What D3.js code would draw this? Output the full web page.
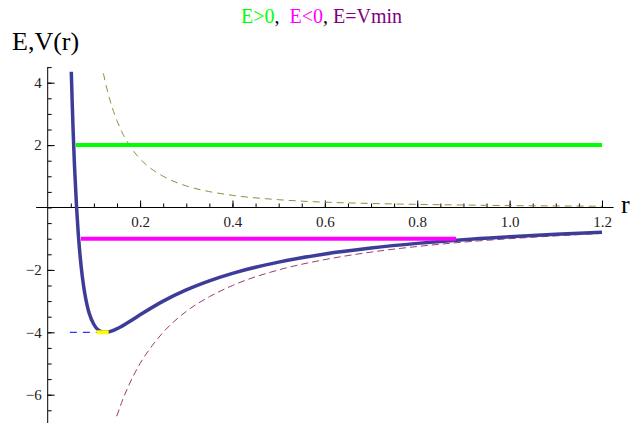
<!DOCTYPE html>
<html>
<head>
<meta charset="utf-8">
<script src="https://cdn.jsdelivr.net/npm/d3@7"></script>
<style>
  html, body { margin: 0; padding: 0; background: #fff; }
  svg { display: block; font-family: "Liberation Serif", "Times New Roman", serif; }
  .tick text { font-size: 15px; fill: #222; font-family: "Liberation Serif", "Times New Roman", serif; }
</style>
</head>
<body>
<svg id="chart" width="638" height="423"></svg>
<script>
// effective potential V(r)
const potential = [
  [0.0511, 4.35], [0.053, 3.38], [0.055, 2.48], [0.058, 1.34], [0.0625, 0],
  [0.066, -0.80], [0.07, -1.53], [0.075, -2.22], [0.08, -2.73], [0.085, -3.11],
  [0.09, -3.40], [0.1, -3.75], [0.11, -3.93], [0.125, -4.00], [0.14, -3.95],
  [0.16, -3.81], [0.18, -3.63], [0.2, -3.44], [0.25, -3.00], [0.3, -2.64],
  [0.35, -2.35], [0.4, -2.11], [0.5, -1.75], [0.6, -1.49], [0.7, -1.30],
  [0.8, -1.15], [0.9, -1.03], [1.0, -0.94], [1.1, -0.86], [1.2, -0.79]
];
// centrifugal term (olive dashed)
const centrifugal = [
  [0.1205, 4.30], [0.13, 3.70], [0.14, 3.19], [0.15, 2.78], [0.16, 2.44],
  [0.18, 1.93], [0.2, 1.56], [0.22, 1.29], [0.25, 1.00], [0.3, 0.69],
  [0.35, 0.51], [0.4, 0.39], [0.5, 0.25], [0.6, 0.17], [0.7, 0.13],
  [0.8, 0.10], [0.9, 0.08], [1.0, 0.06], [1.1, 0.05], [1.2, 0.04]
];
// attractive term (maroon dashed)
const attractive = [
  [0.1495, -6.69], [0.16, -6.25], [0.18, -5.56], [0.2, -5.00], [0.22, -4.55],
  [0.25, -4.00], [0.3, -3.33], [0.35, -2.86], [0.4, -2.50], [0.5, -2.00],
  [0.6, -1.67], [0.7, -1.43], [0.8, -1.25], [0.9, -1.11], [1.0, -1.00],
  [1.1, -0.91], [1.2, -0.83]
];
// energy levels: [E, rStart, rEnd]
const levelPos = [2, 0.061, 1.2];
const levelNeg = [-1, 0.072, 0.884];
const levelMin = [-4, 0.106, 0.132];
const minGuide = [-4, 0.048, 0.106];

const xTicks = [0.2, 0.4, 0.6, 0.8, 1.0, 1.2];
const yTicks = [-6, -4, -2, 2, 4];

const svg = d3.select("#chart");
const x = d3.scaleLinear().domain([0, 1.2]).range([47.7, 602]);
const y = d3.scaleLinear().domain([-6, 4]).range([394.7, 82.7]);

// minor ticks
svg.append("g")
  .attr("transform", `translate(0,${y(0)})`)
  .call(d3.axisBottom(x).tickValues(d3.range(1, 25).map(i => i * 0.05)).tickSize(-4).tickFormat(""))
  .call(g => g.select(".domain").remove());
svg.append("g")
  .attr("transform", `translate(${x(0)},0)`)
  .call(d3.axisLeft(y).tickValues(d3.range(-13, 10).map(i => i * 0.5)).tickSize(-4).tickFormat(""))
  .call(g => g.select(".domain").remove());

// major ticks + labels
svg.append("g")
  .attr("transform", `translate(0,${y(0)})`)
  .call(d3.axisBottom(x).tickValues(xTicks).tickSize(-7).tickPadding(9).tickFormat(d3.format(".1f")))
  .call(g => g.select(".domain").remove());
svg.append("g")
  .attr("transform", `translate(${x(0)},0)`)
  .call(d3.axisLeft(y).tickValues(yTicks).tickSize(-7).tickPadding(6).tickFormat(d3.format("d")))
  .call(g => g.select(".domain").remove());

svg.selectAll(".tick line").attr("stroke", "#000");

// axis lines
svg.append("line")
  .attr("x1", x(-0.025)).attr("x2", x(1.225))
  .attr("y1", y(0)).attr("y2", y(0))
  .attr("stroke", "#000");
svg.append("line")
  .attr("x1", x(0)).attr("x2", x(0))
  .attr("y1", y(4.5)).attr("y2", 423)
  .attr("stroke", "#000");

const line = d3.line()
  .x(d => x(d[0]))
  .y(d => y(d[1]))
  .curve(d3.curveMonotoneX);

svg.append("path").datum(centrifugal)
  .attr("d", line).attr("fill", "none")
  .attr("stroke", "#998b3d").attr("stroke-width", 1)
  .attr("stroke-dasharray", "7,5");
svg.append("path").datum(attractive)
  .attr("d", line).attr("fill", "none")
  .attr("stroke", "#993d71").attr("stroke-width", 1)
  .attr("stroke-dasharray", "7,4");

svg.append("path").datum(potential)
  .attr("d", line).attr("fill", "none")
  .attr("stroke", "#3d3d99").attr("stroke-width", 3.5);

const level = (l, color, width, dash) => {
  const el = svg.append("line")
    .attr("x1", x(l[1])).attr("x2", x(l[2]))
    .attr("y1", y(l[0])).attr("y2", y(l[0]))
    .attr("stroke", color).attr("stroke-width", width);
  if (dash) el.attr("stroke-dasharray", dash);
};
level(levelPos, "#00ff00", 4);
level(levelNeg, "#ff00ff", 4);
level(minGuide, "#0000ff", 1, "7,6");
level(levelMin, "#ffff00", 4);

// labels
svg.append("text")
  .attr("x", 12).attr("y", 50)
  .attr("font-size", 26)
  .text("E,V(r)");
svg.append("text")
  .attr("x", 621).attr("y", 213)
  .attr("font-size", 26)
  .text("r");

const title = svg.append("text")
  .attr("x", 241).attr("y", 23)
  .attr("font-size", 20)
  .attr("xml:space", "preserve");
title.append("tspan").attr("fill", "#00ff00").text("E>0");
title.append("tspan").attr("fill", "#000").text(",  ");
title.append("tspan").attr("fill", "#ff00ff").text("E<0");
title.append("tspan").attr("fill", "#000").text(", ");
title.append("tspan").attr("fill", "#800080").text("E=Vmin");
</script>
</body>
</html>
